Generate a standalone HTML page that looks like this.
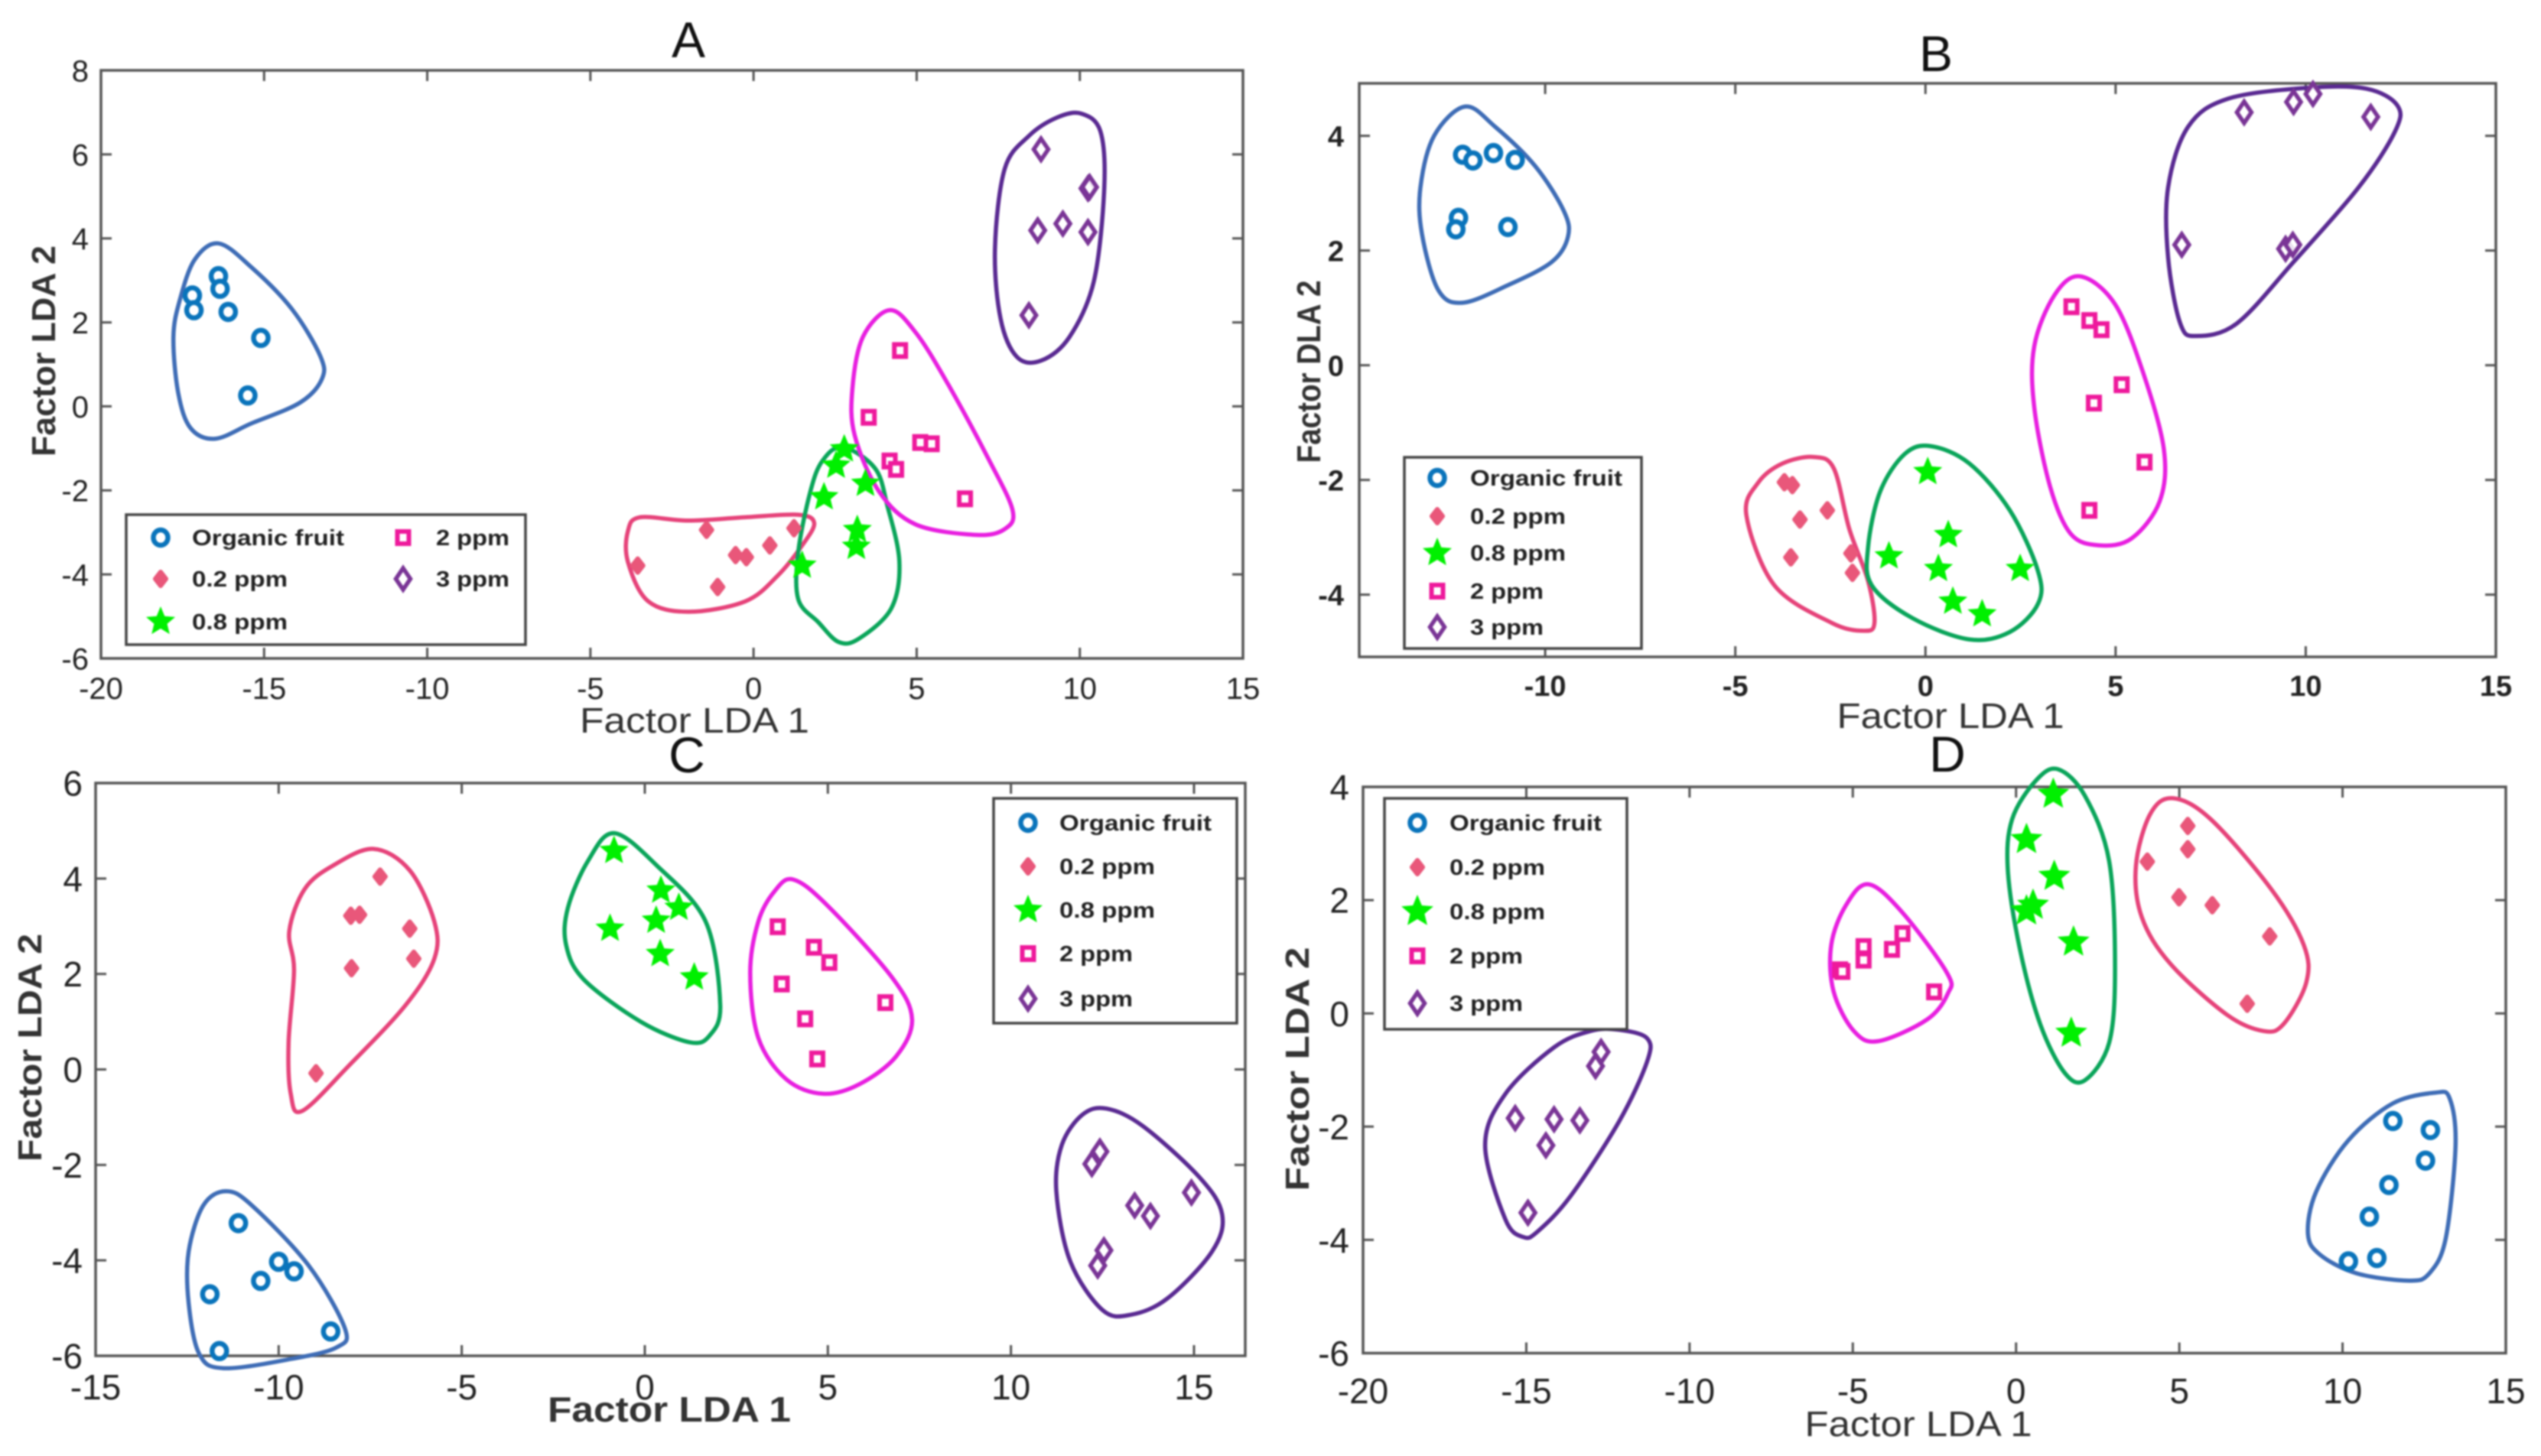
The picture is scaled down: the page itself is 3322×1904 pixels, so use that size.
<!DOCTYPE html>
<html lang="en">
<head>
<meta charset="utf-8">
<title>LDA score plots A–D</title>
<style>
  html, body { margin: 0; padding: 0; background: #fff; }
  body { width: 3322px; height: 1904px; overflow: hidden; }
  svg { display: block; filter: blur(1.1px); }
  text { font-family: "Liberation Sans", sans-serif; fill: #222; }
  .title { font-size: 66px; fill: #111; text-anchor: middle; }
  .xlab { font-size: 46px; text-anchor: middle; fill: #333; }
  .ylab { font-size: 44px; font-weight: bold; text-anchor: middle; fill: #333; }
</style>
</head>
<body>
<svg id="chart" xmlns="http://www.w3.org/2000/svg" width="3322" height="1904" viewBox="0 0 3322 1904">
  <rect x="0" y="0" width="3322" height="1904" fill="#fff"/>
  <g id="panel-a"></g>
  <g id="panel-b"></g>
  <g id="panel-c"></g>
  <g id="panel-d"></g>

  <text class="title" x="900" y="75">A</text>
  <text class="title" x="2531" y="93">B</text>
  <text class="title" x="898" y="1010">C</text>
  <text class="title" x="2546" y="1009">D</text>

  <text class="xlab" x="908" y="958" textLength="300" lengthAdjust="spacingAndGlyphs">Factor LDA 1</text>
  <text class="xlab" x="2550" y="952" textLength="297" lengthAdjust="spacingAndGlyphs">Factor LDA 1</text>
  <text class="xlab" x="875" y="1859" textLength="318" lengthAdjust="spacingAndGlyphs" style="font-weight:bold">Factor LDA 1</text>
  <text class="xlab" x="2508" y="1878" textLength="297" lengthAdjust="spacingAndGlyphs">Factor LDA 1</text>

  <text class="ylab" transform="translate(72,459) rotate(-90)" textLength="276" lengthAdjust="spacingAndGlyphs">Factor LDA 2</text>
  <text class="ylab" transform="translate(1726,486) rotate(-90)" textLength="239" lengthAdjust="spacingAndGlyphs">Factor DLA 2</text>
  <text class="ylab" transform="translate(54,1370) rotate(-90)" textLength="298" lengthAdjust="spacingAndGlyphs">Factor LDA 2</text>
  <text class="ylab" transform="translate(1711,1398) rotate(-90)" textLength="319" lengthAdjust="spacingAndGlyphs">Factor LDA 2</text>
</svg>

<script>
// ---------- Series labels ----------
const seriesLabels = ['Organic fruit', '0.2 ppm', '0.8 ppm', '2 ppm', '3 ppm'];

// ---------- Tick labels ----------
const xTicksA = [-20, -15, -10, -5, 0, 5, 10, 15];
const yTicksA = [-6, -4, -2, 0, 2, 4, 6, 8];
const xTicksB = [-10, -5, 0, 5, 10, 15];
const yTicksB = [-4, -2, 0, 2, 4];
const xTicksC = [-15, -10, -5, 0, 5, 10, 15];
const yTicksC = [-6, -4, -2, 0, 2, 4, 6];
const xTicksD = [-20, -15, -10, -5, 0, 5, 10, 15];
const yTicksD = [-6, -4, -2, 0, 2, 4];

// ---------- Panel A points (LDA1, LDA2) ----------
const aOrganic = [[-17.2,2.64],[-17.15,2.29],[-16.4,3.1],[-16.35,2.8],[-16.1,2.25],[-15.1,1.63],[-15.5,0.26]];
const aLow = [[-3.55,-3.79],[-1.44,-2.94],[-1.1,-4.3],[-0.55,-3.54],[-0.22,-3.59],[0.5,-3.31],[1.24,-2.9]];
const aMid = [[2.78,-1.02],[2.53,-1.41],[3.43,-1.84],[2.16,-2.16],[3.18,-2.94],[3.15,-3.34],[1.49,-3.79]];
const aTwo = [[4.49,1.33],[3.53,-0.26],[5.11,-0.86],[5.46,-0.89],[4.17,-1.3],[4.37,-1.5],[6.48,-2.2]];
const aThree = [[8.81,6.12],[10.25,5.19],[10.3,5.22],[8.71,4.19],[9.48,4.35],[10.25,4.15],[8.44,2.17]];

// ---------- Panel A cluster outlines ----------
const aOrganicHull = [[-16.4,3.88],[-15.4,3.32],[-14.15,2.32],[-13.28,1.2],[-13.23,0.65],[-13.9,0.09],[-15.4,-0.41],[-16.5,-0.77],[-17.25,-0.52],[-17.63,0.31],[-17.78,1.65],[-17.58,2.54],[-17.13,3.49]];
const aLowHull = [[-3.48,-2.64],[-1.99,-2.72],[-0.25,-2.64],[1.37,-2.58],[1.86,-2.78],[1.49,-3.31],[0.74,-4.03],[-0.25,-4.64],[-1.99,-4.89],[-3.23,-4.64],[-3.85,-3.7],[-3.85,-2.97]];
const aMidHull = [[2.73,-0.97],[3.72,-1.47],[4.1,-2.36],[4.47,-3.7],[4.22,-4.81],[3.23,-5.53],[2.61,-5.61],[1.99,-5.14],[1.37,-4.59],[1.37,-3.47],[1.74,-2.03],[2.11,-1.3]];
const aTwoHull = [[4.17,2.29],[4.97,1.76],[5.96,0.53],[7.2,-1.25],[7.94,-2.47],[7.7,-2.92],[6.83,-3.06],[4.97,-2.81],[3.85,-2.03],[3.1,-0.69],[3.03,0.42],[3.35,1.65]];
const aThreeHull = [[10.05,6.97],[10.63,6.55],[10.75,5.21],[10.43,2.98],[9.68,1.65],[8.81,1.09],[8.07,1.18],[7.57,2.09],[7.4,3.76],[7.7,5.66],[8.44,6.44],[9.31,6.88]];

// ---------- Panel B points ----------
const bOrganic = [[-12.17,3.67],[-11.9,3.57],[-11.36,3.7],[-10.79,3.58],[-12.28,2.57],[-12.35,2.37],[-10.98,2.41]];
const bLow = [[-3.71,-2.04],[-3.5,-2.09],[-2.58,-2.53],[-3.3,-2.69],[-3.54,-3.35],[-1.96,-3.28],[-1.92,-3.62]];
const bMid = [[0.06,-1.86],[0.6,-2.96],[-0.96,-3.33],[0.34,-3.55],[2.49,-3.55],[0.72,-4.12],[1.49,-4.34]];
const bTwo = [[3.84,1.02],[4.31,0.78],[4.63,0.62],[5.16,-0.34],[4.43,-0.66],[5.76,-1.69],[4.31,-2.53]];
const bThree = [[8.38,4.41],[9.68,4.59],[10.19,4.73],[11.71,4.33],[6.74,2.1],[9.47,2.03],[9.66,2.1]];

// ---------- Panel B cluster outlines ----------
const bOrganicHull = [[-12.11,4.51],[-11.32,4.16],[-10.26,3.47],[-9.51,2.69],[-9.4,2.24],[-9.83,1.8],[-11,1.39],[-12.17,1.09],[-12.81,1.31],[-13.24,2.29],[-13.28,3.1],[-12.92,4]];
const bLowHull = [[-2.94,-1.6],[-2.41,-1.8],[-2,-2.86],[-1.51,-3.76],[-1.34,-4.49],[-1.62,-4.63],[-2.47,-4.49],[-3.97,-3.84],[-4.71,-2.61],[-4.39,-2.04],[-3.75,-1.71]];
const bMidHull = [[0.13,-1.41],[1.15,-1.71],[2.22,-2.53],[2.96,-3.59],[2.96,-4.16],[2.22,-4.65],[1.15,-4.78],[-0.34,-4.41],[-1.41,-3.84],[-1.51,-3.18],[-1.19,-2.2],[-0.55,-1.55]];
const bTwoHull = [[4.07,1.55],[4.99,1.06],[5.74,-0.16],[6.27,-1.47],[6.16,-2.37],[5.42,-3.02],[4.56,-3.14],[3.82,-2.94],[3.28,-2.12],[2.86,-0.73],[2.86,0.33],[3.39,1.22]];
const bThreeHull = [[10.11,4.84],[11.6,4.82],[12.41,4.53],[12.35,4.08],[11.39,3.1],[9.68,1.8],[8.19,0.73],[7.12,0.51],[6.7,0.73],[6.38,1.88],[6.38,3.1],[6.91,4.16],[7.97,4.65]];

// ---------- Panel C points ----------
const cOrganic = [[-11.1,-3.22],[-10,-4.03],[-9.58,-4.23],[-10.49,-4.43],[-11.88,-4.71],[-11.62,-5.9],[-8.58,-5.49]];
const cLow = [[-7.23,4.04],[-8.03,3.22],[-7.79,3.24],[-6.42,2.95],[-6.31,2.32],[-8.01,2.12],[-8.98,-0.08]];
const cMid = [[-0.84,4.58],[0.44,3.75],[0.93,3.39],[0.31,3.12],[-0.95,2.95],[0.42,2.42],[1.35,1.93]];
const cTwo = [[3.63,2.99],[4.62,2.56],[5.04,2.24],[3.74,1.79],[6.57,1.4],[4.38,1.06],[4.71,0.22]];
const cThree = [[12.43,-1.72],[12.21,-1.98],[14.93,-2.58],[13.38,-2.85],[13.81,-3.07],[12.54,-3.79],[12.37,-4.11]];

// ---------- Panel C cluster outlines ----------
const cOrganicHull = [[-11.44,-2.55],[-10.73,-2.85],[-9.18,-4.11],[-8.19,-5.43],[-8.41,-5.82],[-9.62,-6.06],[-11.5,-6.26],[-12.17,-5.96],[-12.46,-4.89],[-12.46,-3.82],[-12.06,-2.85]];
const cLowHull = [[-7.41,4.62],[-6.42,4.17],[-5.75,3.1],[-5.75,2.32],[-6.53,1.35],[-8.08,0.08],[-9.36,-0.87],[-9.67,-0.51],[-9.73,0.57],[-9.58,2.08],[-9.71,2.9],[-9.29,3.78],[-8.52,4.27]];
const cMidHull = [[-0.84,4.95],[0.33,4.27],[1.66,3.1],[2.06,1.35],[1.77,0.71],[1.22,0.57],[-0.11,1],[-1.66,1.88],[-2.15,2.61],[-2.1,3.39],[-1.55,4.37]];
const cTwoHull = [[4.05,3.98],[4.98,3.44],[6.75,1.93],[7.3,1.05],[6.86,0.27],[5.86,-0.31],[4.87,-0.51],[3.87,-0.21],[3.1,0.66],[2.88,2.03],[3.1,3.1],[3.54,3.73]];
const cThreeHull = [[12.61,-0.82],[13.61,-1.19],[15.15,-2.26],[15.77,-3.04],[15.49,-3.82],[14.27,-4.8],[13.27,-5.14],[12.5,-5.04],[11.62,-4.02],[11.24,-2.55],[11.39,-1.58],[11.95,-0.95]];

// ---------- Panel D points ----------
const dOrganic = [[11.54,-1.9],[12.69,-2.06],[12.54,-2.6],[11.42,-3.03],[10.82,-3.59],[11.05,-4.32],[10.18,-4.38]];
const dLow = [[5.26,3.31],[5.26,2.9],[4.02,2.68],[4.99,2.05],[6.01,1.91],[7.77,1.36],[7.08,0.17]];
const dMid = [[1.14,3.87],[0.32,3.07],[1.17,2.42],[0.52,1.91],[0.32,1.81],[1.76,1.26],[1.69,-0.35]];
const dTwo = [[-5.39,0.77],[-5.32,0.74],[-4.67,1.18],[-4.67,0.94],[-3.8,1.13],[-3.48,1.41],[-2.51,0.38]];
const dThree = [[-12.71,-0.68],[-12.88,-0.93],[-15.34,-1.85],[-14.15,-1.87],[-13.36,-1.89],[-14.4,-2.33],[-14.95,-3.52]];

// ---------- Panel D cluster outlines ----------
const dOrganicHull = [[12.84,-1.4],[13.28,-1.5],[13.46,-2.33],[13.16,-3.97],[12.66,-4.59],[12.04,-4.72],[10.43,-4.59],[9.31,-4.26],[8.94,-3.89],[9.19,-3.15],[10.18,-2.24],[11.54,-1.59]];
const dLowHull = [[4.79,3.8],[5.96,3.43],[7.82,2.19],[8.81,1.21],[8.89,0.55],[8.19,-0.19],[7.57,-0.31],[6.45,-0.02],[4.72,0.88],[3.85,1.7],[3.67,2.6],[4.1,3.51]];
const dMidHull = [[1.29,4.31],[2.11,3.84],[2.85,2.69],[3.03,0.8],[2.85,-0.52],[2.11,-1.18],[1.49,-1.05],[0.74,-0.19],[0.12,1.13],[-0.25,2.52],[-0.12,3.43],[0.62,4.12]];
const dTwoHull = [[-4.52,2.28],[-3.48,1.78],[-2.11,0.71],[-2.09,0.35],[-2.73,-0.11],[-4.22,-0.49],[-4.97,-0.31],[-5.59,0.39],[-5.66,1.21],[-5.21,1.91]];
const dThreeHull = [[-12.16,-0.29],[-11.3,-0.44],[-11.3,-0.85],[-12.16,-1.91],[-13.65,-3.23],[-14.65,-3.85],[-15.09,-3.95],[-15.64,-3.64],[-16.26,-2.33],[-15.64,-1.42],[-14.15,-0.6],[-13.03,-0.31]];

// ---------- Drawing ----------
const NS = 'http://www.w3.org/2000/svg';
const hullColors = ['#3f6db6', '#e6437a', '#0aa55a', '#e81fe0', '#5a2a92'];
const markerColors = ['#0a74bb', '#e9577a', '#00f000', '#ee1a9c', '#7a3596'];
const seriesKeys = ['organic', 'low', 'mid', 'two', 'three'];

function make(tag, attrs, parent) {
  const el = document.createElementNS(NS, tag);
  for (const k in attrs) el.setAttribute(k, attrs[k]);
  parent.appendChild(el);
  return el;
}

function drawMarker(parent, s, px, py, starR) {
  const col = markerColors[s];
  let el;
  if (s === 0) {
    el = make('ellipse', { cx: px, cy: py, rx: 9.5, ry: 10, fill: '#fff', stroke: col, 'stroke-width': 6.5 }, parent);
  } else if (s === 1) {
    el = make('polygon', { points: [[px, py - 9], [px + 7, py], [px, py + 9], [px - 7, py]].join(' '), fill: col, stroke: col, 'stroke-width': 6, 'stroke-linejoin': 'round' }, parent);
  } else if (s === 2) {
    const pts = [];
    for (let i = 0; i < 10; i++) {
      const r = i % 2 === 0 ? starR : starR * 0.45;
      const a = -Math.PI / 2 + i * Math.PI / 5;
      pts.push([px + r * Math.cos(a), py + r * Math.sin(a)]);
    }
    el = make('polygon', { points: pts.join(' '), fill: col }, parent);
  } else if (s === 3) {
    el = make('rect', { x: px - 7.5, y: py - 8, width: 15, height: 16, fill: '#fff', stroke: col, 'stroke-width': 6 }, parent);
  } else {
    el = make('polygon', { points: [[px, py - 14], [px + 9.5, py], [px, py + 14], [px - 9.5, py]].join(' '), fill: '#fff', 'fill-opacity': 0.85, stroke: col, 'stroke-width': 5.5 }, parent);
  }
  return el;
}

function closedSpline(pts) {
  const n = pts.length;
  let d = 'M' + pts[0][0].toFixed(1) + ' ' + pts[0][1].toFixed(1);
  for (let i = 0; i < n; i++) {
    const p0 = pts[(i - 1 + n) % n], p1 = pts[i], p2 = pts[(i + 1) % n], p3 = pts[(i + 2) % n];
    const c1x = p1[0] + (p2[0] - p0[0]) / 6, c1y = p1[1] + (p2[1] - p0[1]) / 6;
    const c2x = p2[0] - (p3[0] - p1[0]) / 6, c2y = p2[1] - (p3[1] - p1[1]) / 6;
    d += 'C' + [c1x, c1y, c2x, c2y, p2[0], p2[1]].map(v => v.toFixed(1)).join(' ');
  }
  return d + 'Z';
}

function drawPanel(cfg) {
  const g = document.getElementById('panel-' + cfg.id);
  const xScale = v => cfg.l + (v - cfg.xMin) / (cfg.xMax - cfg.xMin) * (cfg.r - cfg.l);
  const yScale = v => cfg.b - (v - cfg.yMin) / (cfg.yMax - cfg.yMin) * (cfg.b - cfg.t);

  // frame
  const frame = make('rect', { x: cfg.l, y: cfg.t, width: cfg.r - cfg.l, height: cfg.b - cfg.t, fill: 'none', stroke: '#555', 'stroke-width': 3.5 }, g);
  
  

  // x ticks and labels
  cfg.xTicks.forEach(v => {
    const px = xScale(v);
    const tick = make('path', { d: 'M' + px + ' ' + cfg.b + 'v-14M' + px + ' ' + cfg.t + 'v14', stroke: '#555', 'stroke-width': 3, fill: 'none' }, g);
    
    
    const label = make('text', { x: px, y: cfg.xLabelY, 'text-anchor': 'middle', 'font-size': cfg.tickFont, 'font-weight': cfg.tickWeight }, g);
    label.textContent = String(v);
    
    
  });

  // y ticks and labels
  cfg.yTicks.forEach(v => {
    const py = yScale(v);
    const tick = make('path', { d: 'M' + cfg.l + ' ' + py + 'h14M' + cfg.r + ' ' + py + 'h-14', stroke: '#555', 'stroke-width': 3, fill: 'none' }, g);
    
    
    const label = make('text', { x: cfg.yLabelX, y: py + cfg.tickFont * 0.36, 'text-anchor': 'end', 'font-size': cfg.tickFont, 'font-weight': cfg.tickWeight }, g);
    label.textContent = String(v);
    
    
  });

  // cluster outlines
  cfg.hulls.forEach((hull, s) => {
    const path = make('path', { d: closedSpline(hull.map(p => [xScale(p[0]), yScale(p[1])])), fill: 'none', stroke: hullColors[s], 'stroke-width': 5.5, 'stroke-linejoin': 'round' }, g);
    
    
  });

  // points
  cfg.series.forEach((points, s) => {
    points.forEach(p => {
      const m = drawMarker(g, s, xScale(p[0]), yScale(p[1]), cfg.starR);
      
      
    });
  });

  // legend
  const lg = cfg.legend;
  const box = make('g', {}, g);
  
  
  make('rect', { x: lg.x, y: lg.y, width: lg.w, height: lg.h, fill: '#fff', stroke: '#444', 'stroke-width': 3.5 }, box);
  const widths = [199, 125, 125, 96, 96];
  lg.rows.forEach((row, s) => {
    const entry = make('g', {}, box);
    
    
    drawMarker(entry, s, row[0], row[2], cfg.starR);
    const t = make('text', { x: row[1], y: row[2] + 10, 'font-size': 29, 'font-weight': 'bold', textLength: widths[s], lengthAdjust: 'spacingAndGlyphs', fill: '#111' }, entry);
    t.textContent = seriesLabels[s];
  });
}

drawPanel({
  id: 'a', l: 132, r: 1625, t: 92, b: 861, xMin: -20, xMax: 15, yMin: -6, yMax: 8,
  xTicks: xTicksA, yTicks: yTicksA, xLabelY: 914, yLabelX: 116, tickFont: 40, tickWeight: 'normal', starR: 20,
  series: [aOrganic, aLow, aMid, aTwo, aThree],
  hulls: [aOrganicHull, aLowHull, aMidHull, aTwoHull, aThreeHull],
  legend: { x: 165, y: 673, w: 522, h: 170, rows: [[210, 251, 703], [210, 251, 757], [210, 251, 813], [527, 570, 703], [527, 570, 757]] }
});
drawPanel({
  id: 'b', l: 1777, r: 3263, t: 109, b: 859, xMin: -14.89, xMax: 15, yMin: -5.085, yMax: 4.915,
  xTicks: xTicksB, yTicks: yTicksB, xLabelY: 910, yLabelX: 1757, tickFont: 38, tickWeight: 'bold', starR: 20,
  series: [bOrganic, bLow, bMid, bTwo, bThree],
  hulls: [bOrganicHull, bLowHull, bMidHull, bTwoHull, bThreeHull],
  legend: { x: 1836, y: 598, w: 310, h: 250, rows: [[1879, 1922, 625], [1879, 1922, 675], [1879, 1922, 723], [1879, 1922, 773], [1879, 1922, 820]] }
});
drawPanel({
  id: 'c', l: 125, r: 1628, t: 1024, b: 1773, xMin: -15, xMax: 16.4, yMin: -6, yMax: 6,
  xTicks: xTicksC, yTicks: yTicksC, xLabelY: 1830, yLabelX: 108, tickFont: 46, tickWeight: 'normal', starR: 20,
  series: [cOrganic, cLow, cMid, cTwo, cThree],
  hulls: [cOrganicHull, cLowHull, cMidHull, cTwoHull, cThreeHull],
  legend: { x: 1299, y: 1044, w: 318, h: 294, rows: [[1344, 1385, 1076], [1344, 1385, 1133], [1344, 1385, 1190], [1344, 1385, 1247], [1344, 1385, 1306]] }
});
drawPanel({
  id: 'd', l: 1782, r: 3276, t: 1029, b: 1769.5, xMin: -20, xMax: 15, yMin: -6, yMax: 4,
  xTicks: xTicksD, yTicks: yTicksD, xLabelY: 1835, yLabelX: 1764, tickFont: 46, tickWeight: 'normal', starR: 22,
  series: [dOrganic, dLow, dMid, dTwo, dThree],
  hulls: [dOrganicHull, dLowHull, dMidHull, dTwoHull, dThreeHull],
  legend: { x: 1810, y: 1044, w: 317, h: 302, rows: [[1853, 1895, 1076], [1853, 1895, 1134], [1853, 1895, 1192], [1853, 1895, 1250], [1853, 1895, 1312]] }
});
</script>
</body>
</html>
